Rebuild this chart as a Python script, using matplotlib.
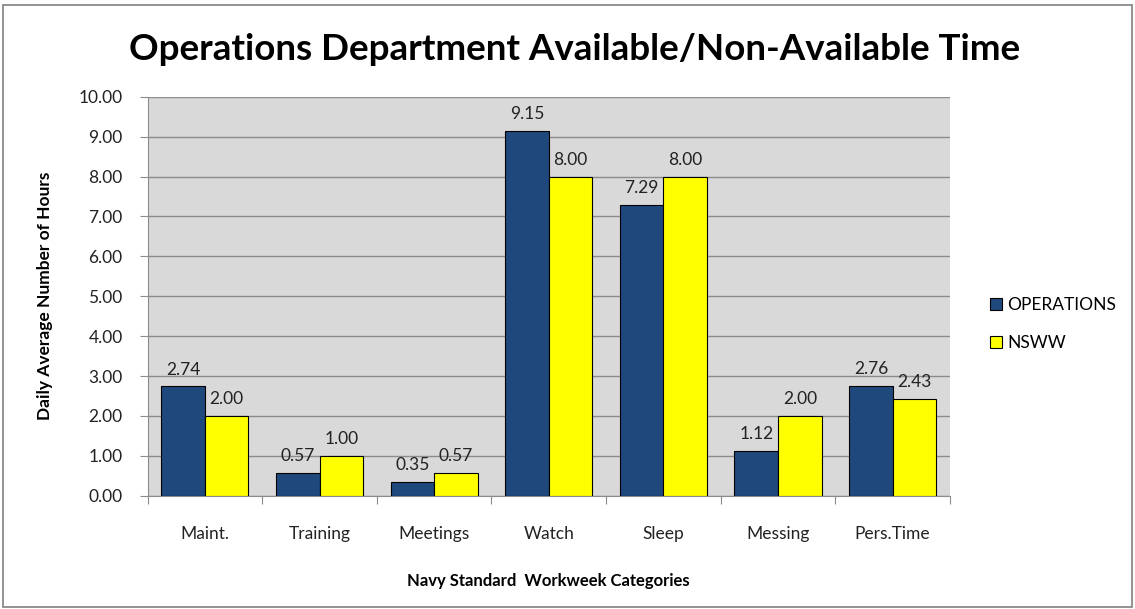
import matplotlib.pyplot as plt
import numpy as np
from matplotlib.patches import Rectangle

# Daily average hours per Navy Standard Workweek category
categories = ["Maint.", "Training", "Meetings", "Watch", "Sleep", "Messing", "Pers.Time"]
operations = [2.74, 0.57, 0.35, 9.15, 7.29, 1.12, 2.76]
nsww = [2.00, 1.00, 0.57, 8.00, 8.00, 2.00, 2.43]

plt.rcParams['font.family'] = ['Lato', 'DejaVu Sans']

fig = plt.figure(figsize=(11.35, 6.09), dpi=100)
ax = fig.add_axes([0.130, 0.186, 0.707, 0.655])
ax.set_facecolor('#d9d9d9')

ind = np.arange(len(categories))
width = 0.38
b1 = ax.bar(ind - width / 2, operations, width, color='#1f497d', edgecolor='black',
            linewidth=0.8, label='OPERATIONS', zorder=3)
b2 = ax.bar(ind + width / 2, nsww, width, color='#ffff00', edgecolor='black',
            linewidth=0.8, label='NSWW', zorder=3)

for bars, vals in ((b1, operations), (b2, nsww)):
    for b, v in zip(bars, vals):
        ax.text(b.get_x() + b.get_width() / 2, v + 0.22, "%.2f" % v,
                ha='center', va='bottom', fontsize=12.5, color='#222222', zorder=4)

ax.set_xlim(-0.5, len(categories) - 0.5)
ax.set_ylim(0, 10)
ax.set_yticks(np.arange(0, 11, 1))
ax.set_yticklabels(["%.2f" % v for v in np.arange(0, 11, 1)], fontsize=12.5, color='#222222')
ax.yaxis.grid(True, color='#8c8c8c', linewidth=1.0, zorder=0)

ax.set_xticks(np.arange(-0.5, len(categories) + 0.5, 1))
ax.set_xticklabels([])
ax.set_xticks(ind, minor=True)
ax.set_xticklabels(categories, minor=True, fontsize=12.5, color='#222222')
ax.tick_params(axis='x', which='minor', length=0, pad=22)
ax.tick_params(axis='x', which='major', length=6, color='#8c8c8c')
ax.tick_params(axis='y', length=6, color='#8c8c8c', pad=12)

for s in ('top', 'right'):
    ax.spines[s].set_visible(False)
for s in ('left', 'bottom'):
    ax.spines[s].set_color('#8c8c8c')

ax.set_ylabel('Daily Average Number of Hours', fontsize=12.5, fontweight='bold', labelpad=18)
ax.set_xlabel('Navy Standard  Workweek Categories', fontsize=12, fontweight='bold', labelpad=22)

fig.text(0.506, 0.918, 'Operations Department Available/Non-Available Time',
         ha='center', va='center', fontsize=26.5, fontweight='bold')

ax.legend(loc='center left', bbox_to_anchor=(1.03, 0.43), frameon=False, fontsize=12.5,
          handlelength=0.7, handleheight=0.7, handletextpad=0.3, labelspacing=1.3)

fig.patches.append(Rectangle((0.003, 0.003), 0.994, 0.988, transform=fig.transFigure,
                             fill=False, edgecolor='#808080', linewidth=1.2))

plt.savefig("out.png")
